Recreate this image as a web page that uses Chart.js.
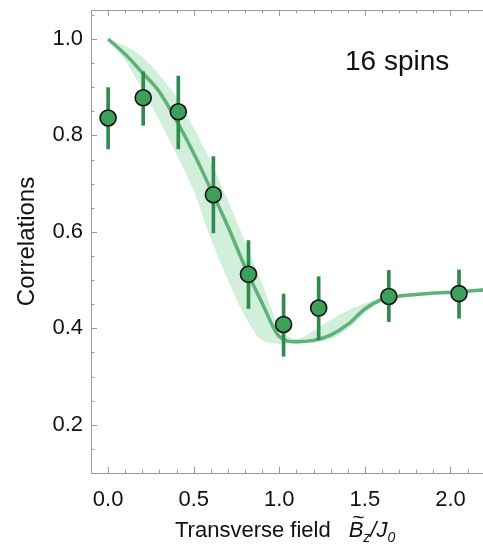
<!DOCTYPE html>
<html>
<head>
<meta charset="utf-8">
<script src="https://cdn.jsdelivr.net/npm/chart.js@4.4.0/dist/chart.umd.min.js"></script>
<style>
  html, body { margin: 0; padding: 0; background: #fff; overflow: hidden; }
  #wrap { width: 483px; height: 548px; }
</style>
</head>
<body>
<div id="wrap"><canvas id="c" width="483" height="548"></canvas></div>
<script>
// ---- data ----
const fieldX = [0, 0.205, 0.41, 0.615, 0.82, 1.025, 1.23, 1.64, 2.05];
const corrMeasured = [0.836, 0.878, 0.849, 0.677, 0.512, 0.408, 0.442, 0.466, 0.472];
const errLow  = [0.772, 0.821, 0.772, 0.598, 0.441, 0.342, 0.376, 0.414, 0.421];
const errHigh = [0.899, 0.932, 0.923, 0.756, 0.582, 0.471, 0.507, 0.520, 0.521];

const theoryX = [0, 0.1, 0.2, 0.3, 0.4, 0.5, 0.6, 0.7, 0.8, 0.9, 1.0, 1.1, 1.2, 1.3, 1.4, 1.5, 1.6, 1.7, 1.8, 1.9, 2.0, 2.1, 2.2];
const theoryY = [1.000, 0.968, 0.930, 0.890, 0.830, 0.763, 0.688, 0.611, 0.527, 0.452, 0.383, 0.372, 0.375, 0.386, 0.408, 0.440, 0.460, 0.467, 0.470, 0.473, 0.475, 0.477, 0.480];
const bandUpper = [1.000, 0.985, 0.963, 0.925, 0.878, 0.815, 0.745, 0.665, 0.580, 0.492, 0.405, 0.378, 0.395, 0.418, 0.437, 0.452, 0.463, 0.469, 0.472, 0.474, 0.476, 0.478, 0.481];
const bandLower = [1.000, 0.955, 0.895, 0.830, 0.760, 0.685, 0.585, 0.500, 0.425, 0.375, 0.368, 0.368, 0.371, 0.378, 0.398, 0.432, 0.455, 0.464, 0.468, 0.471, 0.473, 0.475, 0.478];

const xTickValues = [0, 0.5, 1.0, 1.5, 2.0];
const yTickValues = [0.2, 0.4, 0.6, 0.8, 1.0];
const annotationText = '16 spins';
const yTitle = 'Correlations';

const FONT = '"Liberation Sans", Arimo, Arial, Helvetica, sans-serif';
const FRAME = '#9a9a9a';

const pts = (xs, ys) => xs.map((x, i) => ({x: x, y: ys[i]}));

const framePlugin = {
  id: 'frameTicks',
  beforeDatasetsDraw(chart) {
    const {ctx, chartArea: a, scales: {x, y}} = chart;
    ctx.save();
    ctx.strokeStyle = FRAME;
    ctx.lineWidth = 1;
    ctx.beginPath();
    ctx.moveTo(a.left, a.top + 0.5);
    ctx.lineTo(a.right, a.top + 0.5);
    ctx.stroke();
    for (let k = -1; k <= 22; k++) {
      const v = k / 10;
      const px = Math.round(x.getPixelForValue(v)) + 0.5;
      if (px <= a.left + 1 || px >= a.right - 1) continue;
      const len = (k % 5 === 0) ? 6 : 3.5;
      ctx.beginPath();
      ctx.moveTo(px, a.bottom);
      ctx.lineTo(px, a.bottom - len);
      ctx.stroke();
      ctx.beginPath();
      ctx.moveTo(px, a.top);
      ctx.lineTo(px, a.top + len);
      ctx.stroke();
    }
    for (let k = 2; k <= 21; k++) {
      const v = k / 20;
      const py = Math.round(y.getPixelForValue(v)) + 0.5;
      if (py >= a.bottom - 1 || py <= a.top + 1) continue;
      const len = (k % 4 === 0) ? 6 : 3.5;
      ctx.beginPath();
      ctx.moveTo(a.left, py);
      ctx.lineTo(a.left + len, py);
      ctx.stroke();
    }
    ctx.restore();
  },
  afterDraw(chart) {
    const {ctx} = chart;
    ctx.save();
    ctx.fillStyle = '#111';
    ctx.textBaseline = 'alphabetic';
    ctx.textAlign = 'left';
    ctx.font = '28px ' + FONT;
    ctx.fillText(annotationText, 345, 70);
    const base = 537;
    let cx = 175;
    ctx.font = '22px ' + FONT;
    const t1 = 'Transverse field';
    ctx.fillText(t1, cx, base);
    cx += ctx.measureText(t1).width + 18;
    ctx.font = 'italic 22px ' + FONT;
    const bw = ctx.measureText('B').width;
    ctx.fillText('B', cx, base);
    ctx.font = 'italic 21px ' + FONT;
    const tw = ctx.measureText('~').width;
    ctx.fillText('~', cx + (bw - tw) / 2 + 2, base - 13);
    cx += bw;
    ctx.font = 'italic 14px ' + FONT;
    ctx.fillText('z', cx, base + 5);
    cx += ctx.measureText('z').width;
    ctx.font = 'italic 22px ' + FONT;
    ctx.fillText('/J', cx, base);
    cx += ctx.measureText('/J').width;
    ctx.font = 'italic 14px ' + FONT;
    ctx.fillText('0', cx, base + 5);
    ctx.restore();
  }
};

new Chart(document.getElementById('c'), {
  type: 'line',
  data: {
    datasets: [
      {
        type: 'scatter',
        label: 'measured',
        data: pts(fieldX, corrMeasured),
        pointRadius: 8,
        pointHoverRadius: 8,
        pointBackgroundColor: '#3c9f5c',
        pointBorderColor: '#111111',
        pointBorderWidth: 1.6,
        showLine: false,
        order: 0
      },
      {
        type: 'bar',
        label: 'error',
        data: fieldX.map((x, i) => ({x: x, y: [errLow[i], errHigh[i]]})),
        backgroundColor: '#2f8b4d',
        borderWidth: 0,
        barThickness: 3,
        grouped: false,
        order: 1
      },
      {
        type: 'line',
        label: 'theory',
        data: pts(theoryX, theoryY),
        borderColor: '#5db277',
        borderWidth: 3.5,
        pointRadius: 0,
        cubicInterpolationMode: 'monotone',
        fill: false,
        order: 2
      },
      {
        type: 'line',
        label: 'band upper',
        data: pts(theoryX, bandUpper),
        borderWidth: 0,
        borderColor: 'rgba(0,0,0,0)',
        pointRadius: 0,
        cubicInterpolationMode: 'monotone',
        backgroundColor: 'rgba(130,210,155,0.36)',
        fill: '+1',
        order: 3
      },
      {
        type: 'line',
        label: 'band lower',
        data: pts(theoryX, bandLower),
        borderWidth: 0,
        borderColor: 'rgba(0,0,0,0)',
        pointRadius: 0,
        cubicInterpolationMode: 'monotone',
        fill: false,
        order: 4
      }
    ]
  },
  options: {
    responsive: false,
    animation: false,
    devicePixelRatio: 1,
    layout: { autoPadding: false, padding: { top: 10, left: 0, right: 0, bottom: 0 } },
    plugins: { legend: { display: false }, tooltip: { enabled: false } },
    scales: {
      x: {
        type: 'linear',
        min: -0.1,
        max: 2.19,
        offset: false,
        grid: { display: false, drawTicks: false },
        border: { display: true, color: FRAME, width: 1 },
        afterBuildTicks: (s) => { s.ticks = xTickValues.map(v => ({value: v})); },
        afterFit: (s) => { s.height = 75; s.paddingLeft = 0; s.paddingRight = 0; },
        ticks: {
          padding: 14,
          color: '#111',
          font: { family: FONT, size: 22 },
          maxRotation: 0,
          callback: (v) => Number(v).toFixed(1)
        }
      },
      y: {
        type: 'linear',
        min: 0.1,
        max: 1.06,
        grid: { display: false, drawTicks: false },
        border: { display: true, color: FRAME, width: 1 },
        afterBuildTicks: (s) => { s.ticks = yTickValues.map(v => ({value: v})); },
        afterFit: (s) => { s.width = 91; s.paddingTop = 0; s.paddingBottom = 0; },
        title: {
          display: true,
          text: yTitle,
          color: '#111',
          font: { family: FONT, size: 24 },
          padding: { top: 13, bottom: 0 }
        },
        ticks: {
          padding: 8,
          color: '#111',
          font: { family: FONT, size: 22 },
          callback: (v) => Number(v).toFixed(1)
        }
      }
    }
  },
  plugins: [framePlugin]
});
</script>
</body>
</html>
